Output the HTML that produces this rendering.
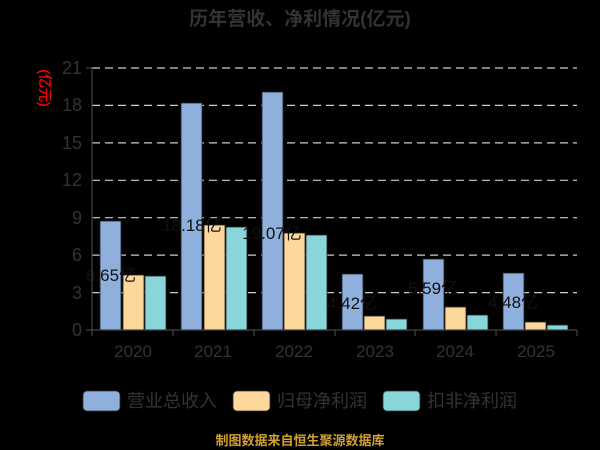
<!DOCTYPE html>
<html><head><meta charset="utf-8"><style>
html,body{margin:0;padding:0;background:#000;width:600px;height:450px;overflow:hidden}
svg{display:block;font-family:"Liberation Sans","Noto Sans CJK SC",sans-serif}
</style></head><body>
<svg width="600" height="450" viewBox="0 0 600 450">
<rect width="600" height="450" fill="#000"/>
<text x="300" y="25" text-anchor="middle" font-size="19" font-weight="bold" fill="#333">历年营收、净利情况(亿元)</text>
<g stroke="#ccc" stroke-width="1.2" stroke-dasharray="8,5">
<line x1="92" y1="68" x2="577" y2="68"/><line x1="92" y1="105.4" x2="577" y2="105.4"/>
<line x1="92" y1="142.9" x2="577" y2="142.9"/><line x1="92" y1="180.3" x2="577" y2="180.3"/>
<line x1="92" y1="217.7" x2="577" y2="217.7"/><line x1="92" y1="255.1" x2="577" y2="255.1"/>
<line x1="92" y1="292.6" x2="577" y2="292.6"/>
</g>
<g font-size="18" fill="#333" text-anchor="end">
<text x="82" y="74">21</text><text x="82" y="111">18</text><text x="82" y="149">15</text>
<text x="82" y="186">12</text><text x="82" y="224">9</text><text x="82" y="261">6</text>
<text x="82" y="299">3</text><text x="82" y="336">0</text>
</g>
<text transform="translate(40,88) rotate(90)" text-anchor="middle" font-size="14" fill="#f00" stroke="#f00" stroke-width="0.4">(亿元)</text>
<g stroke="#222" stroke-width="0.8">
<rect x="100" y="221" width="21" height="109" fill="#8fb0dd"/>
<rect x="123" y="275" width="21" height="55" fill="#fed89b"/>
<rect x="145" y="276" width="21" height="54" fill="#89d6da"/>
<rect x="181" y="103" width="21" height="227" fill="#8fb0dd"/>
<rect x="204" y="225" width="21" height="105" fill="#fed89b"/>
<rect x="226" y="227" width="21" height="103" fill="#89d6da"/>
<rect x="262" y="92" width="21" height="238" fill="#8fb0dd"/>
<rect x="284" y="233" width="21" height="97" fill="#fed89b"/>
<rect x="306" y="235" width="21" height="95" fill="#89d6da"/>
<rect x="342" y="274" width="21" height="56" fill="#8fb0dd"/>
<rect x="364" y="316" width="21" height="14" fill="#fed89b"/>
<rect x="386" y="319" width="21" height="11" fill="#89d6da"/>
<rect x="423" y="259" width="21" height="71" fill="#8fb0dd"/>
<rect x="445" y="307" width="21" height="23" fill="#fed89b"/>
<rect x="467" y="315" width="21" height="15" fill="#89d6da"/>
<rect x="503" y="273" width="21" height="57" fill="#8fb0dd"/>
<rect x="525" y="322" width="21" height="8" fill="#fed89b"/>
<rect x="547" y="325" width="21" height="5" fill="#89d6da"/>
</g>
<g font-size="17" fill="#111" text-anchor="middle">
<text x="111" y="281">8.65亿</text><text x="192" y="231">18.18亿</text><text x="272" y="239">19.07亿</text>
<text x="352" y="309">4.42亿</text><text x="433" y="294">5.59亿</text><text x="513" y="308">4.48亿</text>
</g>
<g stroke="#444" stroke-width="1.2">
<line x1="92" y1="68" x2="92" y2="331"/><line x1="86" y1="330" x2="577" y2="330"/>
<line x1="86" y1="68" x2="92" y2="68"/>
<line x1="92" y1="330" x2="92" y2="336"/><line x1="173" y1="330" x2="173" y2="336"/>
<line x1="254" y1="330" x2="254" y2="336"/><line x1="335" y1="330" x2="335" y2="336"/>
<line x1="415" y1="330" x2="415" y2="336"/><line x1="496" y1="330" x2="496" y2="336"/>
<line x1="577" y1="330" x2="577" y2="336"/>
</g>
<g font-size="17" fill="#333" text-anchor="middle">
<text x="133" y="357">2020</text><text x="213" y="357">2021</text><text x="294" y="357">2022</text>
<text x="375" y="357">2023</text><text x="455" y="357">2024</text><text x="536" y="357">2025</text>
</g>
<g stroke="#333" stroke-width="0.8">
<rect x="83" y="391" width="37" height="20" rx="4" fill="#8fb0dd"/>
<rect x="233" y="391" width="37" height="20" rx="4" fill="#fed89b"/>
<rect x="383" y="391" width="37" height="20" rx="4" fill="#89d6da"/>
</g>
<g font-size="18" fill="#333">
<text x="127" y="407">营业总收入</text><text x="277" y="407">归母净利润</text><text x="427" y="407">扣非净利润</text>
</g>
<text x="300" y="445" text-anchor="middle" font-size="13" font-weight="bold" fill="#d4a032">制图数据来自恒生聚源数据库</text>
</svg>
</body></html>
